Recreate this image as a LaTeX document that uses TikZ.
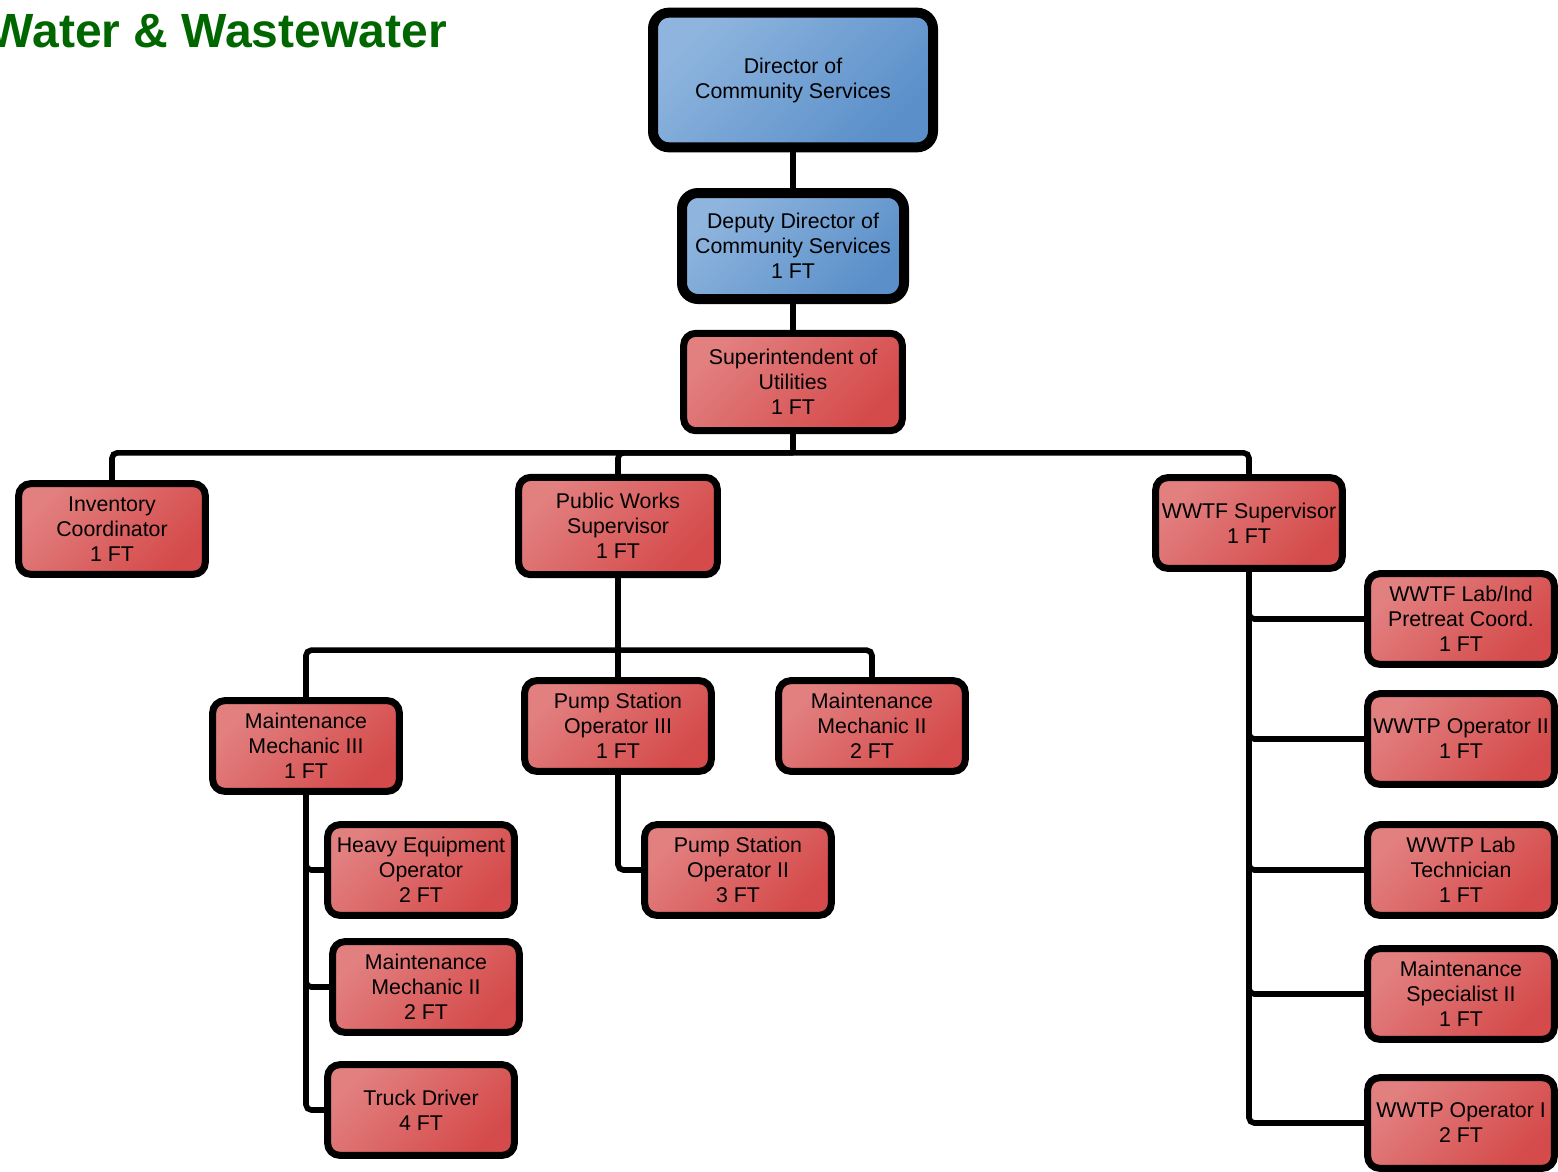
\documentclass[tikz,border=0pt]{standalone}
\usepackage{fontspec}
\setmainfont{Liberation Sans}
\usetikzlibrary{positioning}
\definecolor{redlight}{RGB}{226,128,128}
\definecolor{reddark}{RGB}{213,74,74}
\definecolor{bluelight}{RGB}{143,181,222}
\definecolor{bluedark}{RGB}{90,143,201}
\definecolor{titlegreen}{RGB}{0,102,0}

\begin{document}
\begin{tikzpicture}[x=0.75pt,y=-0.75pt,on grid,
    post/.style={draw,line width=5.25pt,rounded corners=9pt,align=center,
      font=\fontsize{16}{18.75}\selectfont,inner sep=2pt,
      minimum width=140pt,minimum height=68pt},
    redpost/.style={post,top color=redlight,bottom color=reddark,shading angle=45},
    bluepost/.style={post,line width=7.5pt,rounded corners=12pt,
      top color=bluelight,bottom color=bluedark,shading angle=45},
    link/.style={line width=4.2pt,rounded corners=4pt}]
      \useasboundingbox (0,0) rectangle (1558,1171);
      \node[anchor=base east,inner sep=0pt,text=titlegreen,
        font=\fontsize{36}{40}\selectfont\bfseries] (title) at (447,47) {Water \& Wastewater};

      \node[bluepost,minimum width=210pt,minimum height=101pt] (dir) at (793,80) {Director of\\Community Services};
      \node[bluepost,minimum width=166.5pt,minimum height=79.5pt] (dep) [below=124.5pt of dir] {Deputy Director of\\Community Services\\1 FT};
      \node[redpost,minimum width=164pt,minimum height=73pt] (sup) [below=102pt of dep] {Superintendent of\\Utilities\\1 FT};

      \node[redpost] (inv) [below left=110.25pt and 510.75pt of sup] {Inventory\\Coordinator\\1 FT};
      \node[redpost,minimum width=149pt,minimum height=73pt] (pws) [below left=108pt and 131.25pt of sup] {Public Works\\Supervisor\\1 FT};
      \node[redpost] (wsup) [below right=105.75pt and 342pt of sup] {WWTF Supervisor\\1 FT};

      \node[redpost] (mm3) [below left=165pt and 234pt of pws] {Maintenance\\Mechanic III\\1 FT};
      \node[redpost] (ps3) [below=150pt of pws] {Pump Station\\Operator III\\1 FT};
      \node[redpost] (mm2) [right=190.5pt of ps3] {Maintenance\\Mechanic II\\2 FT};
      \node[redpost] (heo) [below right=93pt and 86.25pt of mm3] {Heavy Equipment\\Operator\\2 FT};
      \node[redpost] (mmb) [below right=87.75pt and 3.75pt of heo] {Maintenance\\Mechanic II\\2 FT};
      \node[redpost] (truck) [below left=92.25pt and 3.75pt of mmb] {Truck Driver\\4 FT};
      \node[redpost] (ps2) [below right=108pt and 90pt of ps3] {Pump Station\\Operator II\\3 FT};

      \node[redpost] (lab) [below right=72pt and 159pt of wsup] {WWTF Lab/Ind\\Pretreat Coord.\\1 FT};
      \node[redpost] (op2) [below=90pt of lab] {WWTP Operator II\\1 FT};
      \node[redpost] (tech) [below=98.25pt of op2] {WWTP Lab\\Technician\\1 FT};
      \node[redpost] (spec) [below=93pt of tech] {Maintenance\\Specialist II\\1 FT};
      \node[redpost] (op1) [below=96.75pt of spec] {WWTP Operator I\\2 FT};

      % reporting lines
      \draw[link] (dir) -- (dep);
      \draw[link] (dep) -- (sup);
      \draw[link] (sup.south) -- ++(0,-14pt) coordinate (bus);
      \draw[link] (bus) -| (inv.north);
      \draw[link] (bus) -| (pws.north);
      \draw[link] (bus) -| (wsup.north);

      \draw[link] (pws.south) -- ++(0,-54pt) coordinate (pwbus);
      \draw[link] (pwbus) -| (mm3.north);
      \draw[link] (pwbus) -- (ps3.north);
      \draw[link] (pwbus) -| (mm2.north);
      \draw[link] (mm3.south) |- (heo.west);
      \draw[link] (mm3.south) |- (mmb.west);
      \draw[link] (mm3.south) |- (truck.west);
      \draw[link] (ps3.south) |- (ps2.west);

      \foreach \post in {lab,op2,tech,spec,op1}
        \draw[link] (wsup.south) |- (\post.west);
    \end{tikzpicture}
\end{document}
